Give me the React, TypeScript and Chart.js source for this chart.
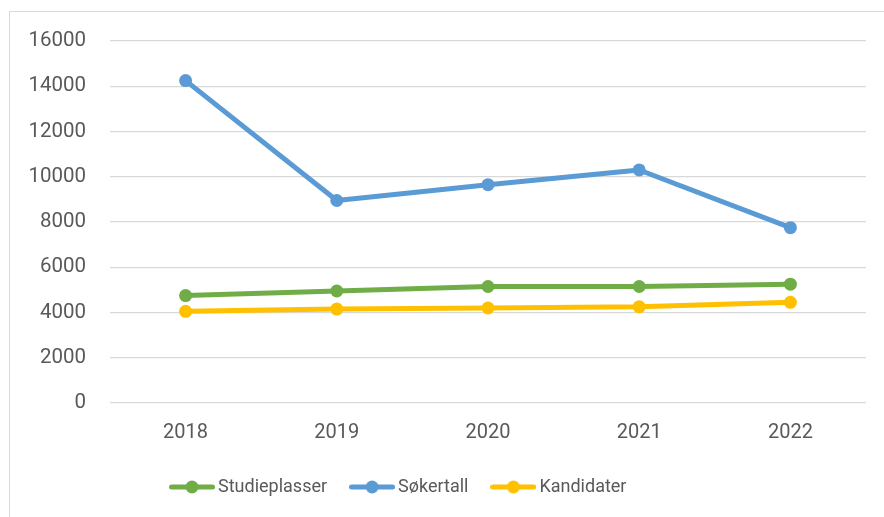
import React, { useEffect, useRef } from "react";
import { Chart, registerables } from "chart.js";

Chart.register(...registerables);

const categories = ["2018", "2019", "2020", "2021", "2022"];
const studieplasser = [4750, 4950, 5150, 5150, 5250];
const sokertall = [14250, 8950, 9650, 10300, 7750];
const kandidater = [4050, 4150, 4200, 4250, 4450];
const seriesNames = ["Studieplasser", "Søkertall", "Kandidater"];
const seriesColors = ["#70AD47", "#5B9BD5", "#FFC000"];
const yMin = 0;
const yMax = 16000;
const yStep = 2000;

function makeMarker(color: string): HTMLCanvasElement {
  const c = document.createElement("canvas");
  c.width = 46;
  c.height = 14;
  const ctx = c.getContext("2d")!;
  ctx.strokeStyle = color;
  ctx.lineWidth = 5;
  ctx.lineCap = "round";
  ctx.beginPath();
  ctx.moveTo(2.5, 7);
  ctx.lineTo(43.5, 7);
  ctx.stroke();
  ctx.fillStyle = color;
  ctx.beginPath();
  ctx.arc(23, 7, 6.5, 0, Math.PI * 2);
  ctx.fill();
  return c;
}

export default function App() {
  const ref = useRef<HTMLCanvasElement | null>(null);

  useEffect(() => {
    if (!ref.current) return;
    const markers = seriesColors.map(makeMarker);
    const seriesData = [studieplasser, sokertall, kandidater];
    const legendShift = {
      id: "legendShift",
      afterLayout(chart: any) {
        const lg = chart.legend;
        if (!lg) return;
        const w = lg.right - lg.left;
        lg.left = 147;
        lg.right = 147 + w;
      },
    };
    const chart = new Chart(ref.current, {
      type: "line",
      data: {
        labels: categories,
        datasets: seriesNames.map((name, i) => ({
          label: name,
          data: seriesData[i],
          borderColor: seriesColors[i],
          backgroundColor: seriesColors[i],
          pointBackgroundColor: seriesColors[i],
          pointBorderColor: seriesColors[i],
          borderWidth: 5,
          pointRadius: 6.5,
          pointHoverRadius: 6.5,
          pointBorderWidth: 0,
          tension: 0,
          fill: false,
          borderCapStyle: "round",
          borderJoinStyle: "round",
        })),
      },
      plugins: [legendShift],
      options: {
        responsive: false,
        animation: false,
        layout: { padding: { left: 0, right: 18, top: 41, bottom: 11 } },
        plugins: {
          tooltip: { enabled: false },
          legend: {
            position: "bottom",
            align: "start",
            labels: {
              usePointStyle: true,
              pointStyleWidth: 34,
              padding: 28,
              color: "#595959",
              font: { family: 'Roboto, "Open Sans", sans-serif', size: 18 },
              generateLabels: (c: any) =>
                Chart.defaults.plugins.legend.labels.generateLabels(c).map((l: any) => ({
                  ...l,
                  pointStyle: markers[l.datasetIndex],
                  lineWidth: 0,
                })),
            },
          },
        },
        scales: {
          x: {
            type: "category",
            offset: true,
            grid: { display: false, drawTicks: false },
            border: { display: false },
            ticks: {
              color: "#595959",
              padding: 18,
              font: { family: 'Roboto, "Open Sans", sans-serif', size: 20 },
            },
            afterFit: (s: any) => {
              s.height = 47;
            },
          },
          y: {
            min: yMin,
            max: yMax,
            grid: { color: "#D9D9D9", lineWidth: 1.3, drawTicks: false },
            border: { display: false },
            ticks: {
              stepSize: yStep,
              color: "#595959",
              padding: 24,
              font: { family: 'Roboto, "Open Sans", sans-serif', size: 20.5 },
              callback: (v: any) => String(v),
            },
            afterFit: (s: any) => {
              s.width = 110;
            },
          },
        },
      },
    });
    return () => chart.destroy();
  }, []);

  return (
    <div style={{ position: "fixed", left: 0, top: 0, width: 884, height: 517, background: "#fff", overflow: "hidden" }}>
      <canvas ref={ref} width={884} height={517} style={{ position: "absolute", left: 0, top: 0, width: 884, height: 517 }} />
      <div
        style={{
          position: "absolute",
          left: 9,
          top: 11,
          width: 900,
          height: 600,
          border: "1px solid #D9D9D9",
          pointerEvents: "none",
        }}
      />
    </div>
  );
}
